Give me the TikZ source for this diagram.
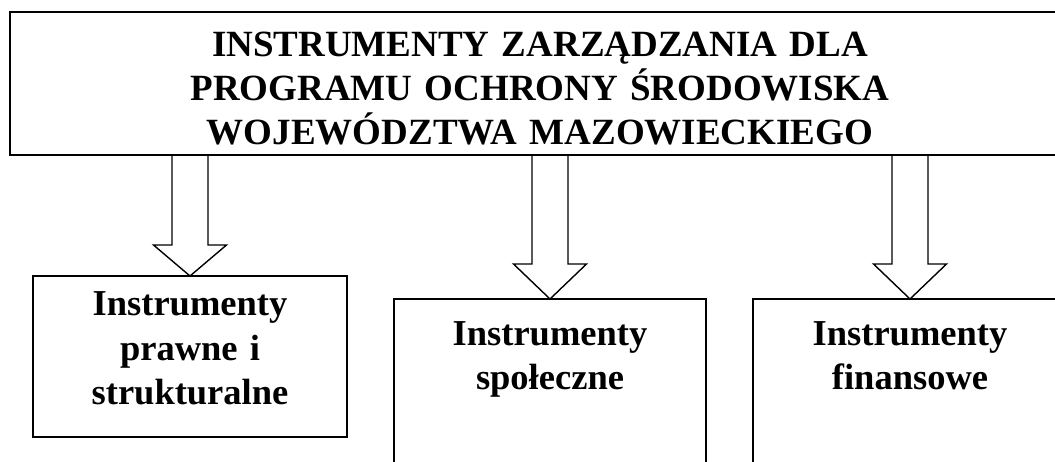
\documentclass[tikz,border=0pt]{standalone}
\usepackage{fontspec}
\setmainfont{Liberation Serif}
\usetikzlibrary{calc}
\begin{document}
\begin{tikzpicture}[x=1pt,y=-1pt,
  frame/.style={draw, line width=2.2pt, inner sep=0pt, outer sep=0pt, anchor=north west},
  bigtext/.style={font=\bfseries\fontsize{37}{44}\selectfont, align=center, text width=800pt, inner sep=0pt, anchor=base},
  boxtext/.style={font=\bfseries\fontsize{36.5}{44.5}\selectfont, align=center, text width=300pt, inner sep=0pt, anchor=base},
  blockarrow/.style={draw, line width=1.4pt, line join=miter}]
\useasboundingbox (0,0) rectangle (1055,462);
% boxes
\node[frame, minimum width=1060pt, minimum height=143pt] (top) at (10,12) {};
\node[frame, minimum width=314pt, minimum height=161pt] (b1) at (33,276) {};
\node[frame, minimum width=312pt, minimum height=190pt] (b2) at (394,299) {};
\node[frame, minimum width=314pt, minimum height=190pt] (b3) at (753,299) {};
% texts
\node[bigtext] (ttop) at (540,57) {INSTRUMENTY ZARZĄDZANIA DLA\\PROGRAMU OCHRONY ŚRODOWISKA\\WOJEWÓDZTWA MAZOWIECKIEGO};
\node[boxtext] (t1) at (190,316) {Instrumenty\\prawne i\\strukturalne};
\node[boxtext] (t2) at (550,345) {Instrumenty\\społeczne};
\node[boxtext] (t3) at (910,345) {Instrumenty\\finansowe};
% block arrows
\foreach \b/\h in {b1/31, b2/35, b3/35}{
  \draw[blockarrow]
    ($(top.south -| \b.north)+(-18,0)$) -- ($(\b.north)+(-18,-\h)$) -- ($(\b.north)+(-36.5,-\h)$)
    -- (\b.north) -- ($(\b.north)+(36.5,-\h)$) -- ($(\b.north)+(18,-\h)$)
    -- ($(top.south -| \b.north)+(18,0)$);
}
\end{tikzpicture}
\end{document}
